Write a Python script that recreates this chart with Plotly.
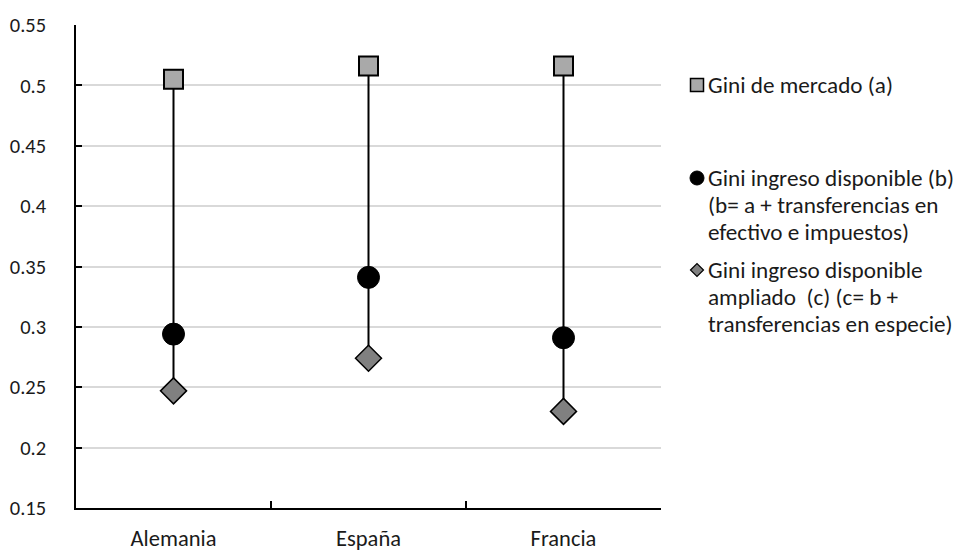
import plotly.graph_objects as go

# Countries and Gini coefficients
paises = ["Alemania", "España", "Francia"]
gini_mercado = [0.505, 0.516, 0.516]        # (a)
gini_disponible = [0.294, 0.341, 0.291]     # (b)
gini_ampliado = [0.247, 0.274, 0.230]       # (c)

y_ticks = [0.15, 0.2, 0.25, 0.3, 0.35, 0.4, 0.45, 0.5, 0.55]
y_ticktext = ["0.15", "0.2", "0.25", "0.3", "0.35", "0.4", "0.45", "0.5", "0.55"]

# legend entries, one list of text lines per series
leyenda_lineas = [
    ["Gini de mercado (a)"],
    ["Gini ingreso disponible (b)", "(b= a + transferencias en", "efectivo e impuestos)"],
    ["Gini ingreso disponible", "ampliado\u00a0 (c) (c= b +", "transferencias en especie)"],
]

FONT = "Carlito, Lato, 'Open Sans', sans-serif"
TXT = "#1a1a1a"

W, H = 966, 551
L, R, T, B = 76, 305, 25, 43
PW, PH = W - L - R, H - T - B

COL_A, COL_C = "#A9A9A9", "#808080"


def px_x(x):
    return (x - L) / PW


def px_y(y):
    return (H - B - y) / PH


fig = go.Figure()

# high-low connector lines from (a) down to (c)
lx, ly = [], []
for p, hi, lo in zip(paises, gini_mercado, gini_ampliado):
    lx += [p, p, None]
    ly += [hi, lo, None]
fig.add_trace(go.Scatter(
    x=lx, y=ly, mode="lines", line=dict(color="black", width=2),
    showlegend=False, hoverinfo="skip",
))

fig.add_trace(go.Scatter(
    x=paises, y=gini_mercado, mode="markers", name=leyenda_lineas[0][0],
    marker=dict(symbol="square", size=19, color=COL_A,
                line=dict(color="black", width=2)),
))
fig.add_trace(go.Scatter(
    x=paises, y=gini_disponible, mode="markers", name=" ".join(leyenda_lineas[1]),
    marker=dict(symbol="circle", size=22, color="black",
                line=dict(color="black", width=1)),
))
fig.add_trace(go.Scatter(
    x=paises, y=gini_ampliado, mode="markers", name=" ".join(leyenda_lineas[2]),
    marker=dict(symbol="diamond", size=20, color=COL_C,
                line=dict(color="black", width=1.5)),
))

# hand-placed legend: a key symbol plus tightly spaced text lines per entry
ley_top = [85, 178, 270]
LINE_H = 27
SYM_X = 697
TEXT_X = 707
annotations, shapes = [], []
for i, (lineas, y0) in enumerate(zip(leyenda_lineas, ley_top)):
    for j, t in enumerate(lineas):
        annotations.append(dict(
            xref="paper", yref="paper", x=px_x(TEXT_X), y=px_y(y0 + j * LINE_H),
            xanchor="left", yanchor="middle", text=t, showarrow=False,
            borderpad=0, font=dict(family=FONT, size=23.2, color=TXT),
        ))
    if i == 0:
        s = 6.5
        shapes.append(dict(type="rect", xref="paper", yref="paper",
                           x0=px_x(SYM_X - s), x1=px_x(SYM_X + s),
                           y0=px_y(y0 + s), y1=px_y(y0 - s),
                           fillcolor=COL_A, line=dict(color="black", width=1.5)))
    elif i == 1:
        s = 7
        shapes.append(dict(type="circle", xref="paper", yref="paper",
                           x0=px_x(SYM_X - s), x1=px_x(SYM_X + s),
                           y0=px_y(y0 + s), y1=px_y(y0 - s),
                           fillcolor="black", line=dict(color="black", width=1)))
    else:
        s = 6.5
        path = (f"M {px_x(SYM_X - s)},{px_y(y0)} L {px_x(SYM_X)},{px_y(y0 - s)} "
                f"L {px_x(SYM_X + s)},{px_y(y0)} L {px_x(SYM_X)},{px_y(y0 + s)} Z")
        shapes.append(dict(type="path", xref="paper", yref="paper", path=path,
                           fillcolor=COL_C, line=dict(color="black", width=1.2)))

fig.update_layout(
    width=W, height=H,
    margin=dict(l=L, r=R, t=T, b=B, autoexpand=False),
    paper_bgcolor="white", plot_bgcolor="white",
    font=dict(family=FONT, size=20, color=TXT),
    showlegend=False,
    annotations=annotations,
    shapes=shapes,
    xaxis=dict(
        type="category", categoryorder="array", categoryarray=paises,
        showline=True, linecolor="black", linewidth=1.5,
        ticks="inside", ticklen=7, tickcolor="black", tickwidth=1.5,
        tickson="boundaries", showgrid=False, ticklabelstandoff=9,
        tickfont=dict(size=22.5),
        range=[-0.5, 2.5], fixedrange=True,
    ),
    yaxis=dict(
        range=[0.15, 0.55], tickvals=y_ticks, ticktext=y_ticktext,
        showline=True, linecolor="black", linewidth=1.5,
        ticks="inside", ticklen=6, tickcolor="black", tickwidth=1.5,
        showgrid=True, gridcolor="#D9D9D9", gridwidth=1.5,
        zeroline=False, ticklabelstandoff=24,
        tickfont=dict(size=20.5),
    ),
)

fig.write_html("out.html")
